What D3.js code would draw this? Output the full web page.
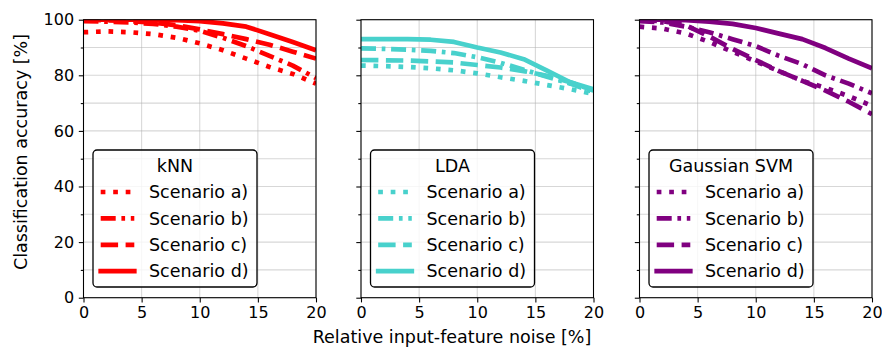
<!DOCTYPE html>
<html>
<head>
<meta charset="utf-8">
<script src="https://cdn.jsdelivr.net/npm/d3@7"></script>
<style>
  html, body { margin: 0; padding: 0; background: #fff; }
  svg { display: block; font-family: "DejaVu Sans", sans-serif; }
</style>
</head>
<body>
<svg id="chart" width="882" height="347"></svg>
<script>
// noise levels on the x axis [%]
const noise = [0, 2, 4, 6, 8, 10, 12, 14, 16, 18, 20];

// classification accuracy [%] per classifier and scenario
const knnA = [95.5, 95.8, 95.5, 94.8, 93.5, 91.5, 89, 86, 83, 80.5, 77];
const knnB = [99.5, 99.3, 99, 98.5, 97.5, 96, 93.5, 90.5, 87, 83.5, 79];
const knnC = [100, 99.8, 99.5, 99, 98, 96.5, 94.8, 93, 91, 88.5, 86];
const knnD = [100, 100, 100, 100, 99.8, 99.5, 98.7, 97.5, 94.8, 92, 89];

const ldaA = [83.5, 83.3, 83, 82.5, 81.8, 80.7, 79.3, 78, 76.5, 75, 73.3];
const ldaB = [89.7, 89.5, 89.2, 88.8, 88, 86.5, 84.5, 82, 79.5, 77, 74];
const ldaC = [85.5, 85.4, 85.3, 85, 84.6, 83.7, 82.8, 81.5, 79.8, 77.5, 74.5];
const ldaD = [93, 93, 93, 92.8, 92, 90, 88.2, 85.8, 81.7, 77.5, 75];

const svmA = [97.5, 96.8, 95, 92, 88.5, 85, 81.5, 78, 75.5, 72.5, 69];
const svmB = [99.5, 99, 97.5, 95.5, 93, 90.5, 87, 84, 80, 77, 73.5];
const svmC = [99.8, 99.5, 98, 94, 89.5, 85.5, 81.5, 78, 74.5, 70.5, 66];
const svmD = [100, 100, 99.8, 99.3, 98.5, 97, 95, 93, 89.8, 86, 82.5];

const classifiers = ["kNN", "LDA", "Gaussian SVM"];
const scenarios = ["Scenario a)", "Scenario b)", "Scenario c)", "Scenario d)"];
const xTicks = [0, 5, 10, 15, 20];
const yTicks = [0, 20, 40, 60, 80, 100];
const yMinorTicks = [10, 30, 50, 70, 90];

const series = [
  [knnA, knnB, knnC, knnD],
  [ldaA, ldaB, ldaC, ldaD],
  [svmA, svmB, svmC, svmD]
];
const colors = ["#ff0000", "#48d1cc", "#800080"];
// dotted, dash-dot, dashed, solid
const dashes = ["4.7,7.8", "15,5.7,3.7,5.7", "17.4,7.5", null];

const lw = 4.7;
const panelLeft = [83.5, 361, 639.5];
const panelWidth = 232.5;
const plotTop = 19.7, plotBottom = 297.7;
const labelSize = "17.5px";

const svg = d3.select("#chart");

const y = d3.scaleLinear().domain([0, 100]).range([plotBottom, plotTop]);

classifiers.forEach((name, p) => {
  const x = d3.scaleLinear().domain([0, 20]).range([panelLeft[p], panelLeft[p] + panelWidth]);
  const g = svg.append("g");

  // clip path for the plot area
  const clipId = "clip" + p;
  svg.append("clipPath").attr("id", clipId)
    .append("rect")
    .attr("x", x(0)).attr("y", y(100))
    .attr("width", x(20) - x(0)).attr("height", y(0) - y(100));

  // grid
  g.selectAll(".vgrid").data(xTicks).enter().append("line")
    .attr("x1", d => x(d)).attr("x2", d => x(d))
    .attr("y1", y(0)).attr("y2", y(100))
    .attr("stroke", "#b0b0b0").attr("stroke-opacity", 0.5).attr("stroke-width", 1.07);
  g.selectAll(".hgrid").data(yTicks.concat(yMinorTicks)).enter().append("line")
    .attr("x1", x(0)).attr("x2", x(20))
    .attr("y1", d => y(d)).attr("y2", d => y(d))
    .attr("stroke", "#b0b0b0").attr("stroke-opacity", 0.5).attr("stroke-width", 1.07);

  // lines
  const line = d3.line().x((d, i) => x(noise[i])).y(d => y(d));
  series[p].forEach((vals, s) => {
    g.append("path")
      .datum(vals)
      .attr("clip-path", `url(#${clipId})`)
      .attr("d", line)
      .attr("fill", "none")
      .attr("stroke", colors[p])
      .attr("stroke-width", lw)
      .attr("stroke-linejoin", "round")
      .attr("stroke-dasharray", dashes[s]);
  });

  // axes
  const xAxis = d3.axisBottom(x).tickValues(xTicks).tickSize(4.7).tickPadding(4.7).tickFormat(d3.format("d"));
  const ax = g.append("g").attr("transform", `translate(0,${y(0)})`).call(xAxis);

  const yAxis = d3.axisLeft(y).tickValues(yTicks).tickSize(4.7).tickPadding(4.7)
    .tickFormat(p === 0 ? d3.format("d") : () => "");
  const ay = g.append("g").attr("transform", `translate(${x(0)},0)`).call(yAxis);
  const ayMinor = g.append("g").attr("transform", `translate(${x(0)},0)`)
    .call(d3.axisLeft(y).tickValues(yMinorTicks).tickSize(2.7).tickFormat(() => ""));
  [ax, ay, ayMinor].forEach(a => {
    a.select(".domain").remove();
    a.selectAll("line").attr("stroke", "#000").attr("stroke-width", 1.07);
    a.selectAll("text").attr("fill", "#000").style("font-size", "16px")
      .style("font-family", "DejaVu Sans, sans-serif");
  });

  // spines
  g.append("rect")
    .attr("x", x(0)).attr("y", y(100))
    .attr("width", x(20) - x(0)).attr("height", y(0) - y(100))
    .attr("fill", "none").attr("stroke", "#000").attr("stroke-width", 1.07);

  // legend
  const lx = x(0) + 9.5, ly = 150;
  const leg = g.append("g").attr("transform", `translate(${lx},${ly})`);
  leg.append("rect")
    .attr("x", 0).attr("y", 0).attr("width", 164).attr("height", 137)
    .attr("rx", 4).attr("ry", 4)
    .attr("fill", "#fff").attr("fill-opacity", 0.8)
    .attr("stroke", "#000").attr("stroke-width", 1.3);
  leg.append("text")
    .attr("x", 82).attr("y", 16)
    .attr("dy", "0.35em")
    .attr("text-anchor", "middle")
    .style("font-size", labelSize)
    .text(name);
  scenarios.forEach((label, s) => {
    const cy = 42 + s * 26.4;
    leg.append("line")
      .attr("x1", 7.7).attr("x2", 41.3)
      .attr("y1", cy).attr("y2", cy)
      .attr("stroke", colors[p]).attr("stroke-width", lw)
      .attr("stroke-linecap", dashes[s] ? "butt" : "square")
      .attr("stroke-dasharray", dashes[s]);
    leg.append("text")
      .attr("x", 56).attr("y", cy)
      .attr("dy", "0.35em")
      .style("font-size", labelSize)
      .text(label);
  });
});

// axis titles
svg.append("text")
  .attr("transform", "translate(27,152) rotate(-90)")
  .attr("text-anchor", "middle")
  .style("font-size", labelSize)
  .text("Classification accuracy [%]");

svg.append("text")
  .attr("x", 452).attr("y", 343)
  .attr("text-anchor", "middle")
  .style("font-size", labelSize)
  .text("Relative input-feature noise [%]");
</script>
</body>
</html>
